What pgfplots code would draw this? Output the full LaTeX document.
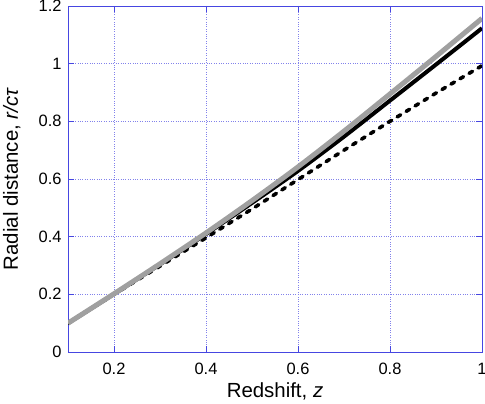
\documentclass[border=0pt]{standalone}
\usepackage{pgfplots}
\pgfplotsset{compat=1.18}
\usepackage{fontspec}
\setmainfont{Liberation Sans}

\definecolor{axblue}{RGB}{70,70,225}
\definecolor{gridblue}{RGB}{130,130,235}
\definecolor{curvegray}{RGB}{160,160,160}

\begin{document}
\begin{tikzpicture}
\begin{axis}[
  scale only axis,
  width=414bp, height=346bp,
  xmin=0.1, xmax=1, ymin=0, ymax=1.2,
  xtick={0.2,0.4,0.6,0.8,1},
  ytick={0,0.2,0.4,0.6,0.8,1,1.2},
  /pgf/number format/assume math mode=true,
  tick label style={font=\fontsize{16.5}{19}\selectfont},
  label style={font=\fontsize{20.5}{24}\selectfont},
  xlabel={Redshift, \textit{z}},
  ylabel={Radial distance, \textit{r/cτ}},
  xlabel style={at={(axis description cs:0.5,0)}, anchor=base, yshift=-45bp, inner sep=1bp},
  ylabel style={at={(axis description cs:0,0.5)}, anchor=base, yshift=50bp},
  axis line style={axblue, line width=0.7bp},
  tick style={axblue, line width=0.6bp},
  tick align=inside, tick pos=both,
  major tick length=6bp,
  grid=major,
  major grid style={gridblue, dotted, line width=0.6bp},
  xticklabel style={yshift=-10bp, inner sep=1bp},
  yticklabel style={xshift=-3bp},
]
% dashed curve
\addplot[black, line width=3.6bp, line cap=round, dash pattern=on 4bp off 6.5bp] coordinates {
  (0.1,0.100) (0.2,0.200) (0.3,0.298) (0.4,0.396) (0.5,0.496)
  (0.6,0.598) (0.7,0.700) (0.8,0.800) (0.9,0.898) (1.0,0.993)
};
% black solid
\addplot[black, line width=4bp, smooth] coordinates {
  (0.1,0.100) (0.2,0.201) (0.3,0.304) (0.4,0.409) (0.5,0.517)
  (0.6,0.628) (0.7,0.747) (0.8,0.872) (0.9,0.997) (1.0,1.123)
};
% grey solid
\addplot[curvegray, line width=5bp, smooth] coordinates {
  (0.1,0.100) (0.2,0.202) (0.3,0.306) (0.4,0.413) (0.5,0.525)
  (0.6,0.642) (0.7,0.766) (0.8,0.895) (0.9,1.025) (1.0,1.157)
};
\end{axis}
\pgfresetboundingbox
\path (current axis.south west) ++(-68bp,-51bp) rectangle ([xshift=3bp,yshift=6bp]current axis.north east);
\end{tikzpicture}
\end{document}
